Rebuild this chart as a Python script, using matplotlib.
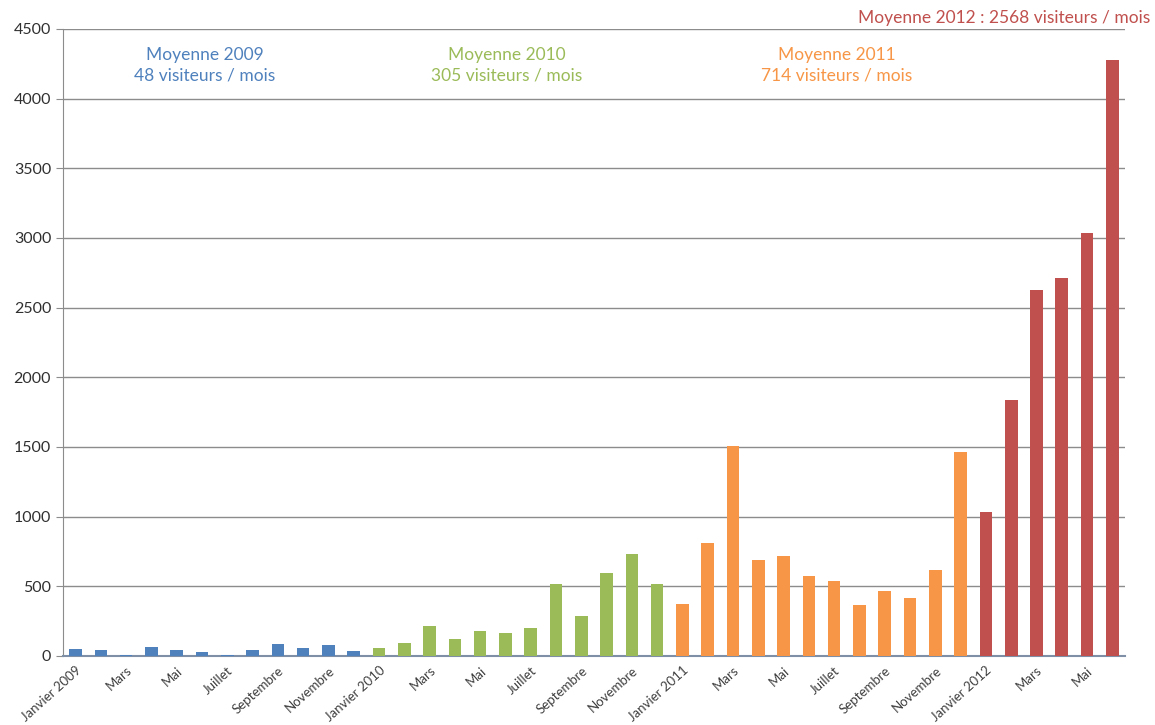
import matplotlib
matplotlib.use("Agg")
import matplotlib.pyplot as plt
import numpy as np

mois = ["Janvier", "Février", "Mars", "Avril", "Mai", "Juin", "Juillet",
        "Août", "Septembre", "Octobre", "Novembre", "Décembre"]
annees = [2009, 2010, 2011, 2012]

visites_2009 = [50, 40, 10, 68, 40, 25, 10, 45, 88, 60, 82, 35]
visites_2010 = [55, 90, 215, 120, 180, 165, 200, 520, 290, 595, 735, 520]
visites_2011 = [375, 810, 1510, 690, 715, 575, 540, 367, 467, 417, 617, 1467]
visites_2012 = [1035, 1835, 2625, 2715, 3035, 4275]

moyennes = {2009: 48, 2010: 305, 2011: 714, 2012: 2568}
couleurs = {2009: "#4F81BD", 2010: "#9BBB59", 2011: "#F79646", 2012: "#C0504D"}
series = {2009: visites_2009, 2010: visites_2010, 2011: visites_2011, 2012: visites_2012}

labels = []
values = []
colors = []
for a in annees:
    for i, v in enumerate(series[a]):
        labels.append(f"{mois[i]} {a}" if i == 0 else mois[i])
        values.append(v)
        colors.append(couleurs[a])

plt.rcParams['font.family'] = ['Lato', 'DejaVu Sans']
fig = plt.figure(figsize=(11.55, 7.25), dpi=100)
ax = fig.add_axes([0.0545, 0.0952, 0.9195, 0.8648])

x = np.arange(len(values))
ax.bar(x, values, width=0.5, color=colors, zorder=3, edgecolor='none')

ax.set_xlim(-0.5, len(values) - 0.5)
ax.set_ylim(0, 4500)
ax.set_yticks(np.arange(0, 4501, 500))
ax.yaxis.grid(True, color='#8c8c8c', linewidth=1.0, zorder=0)
ax.set_axisbelow(True)
for s in ['top', 'right']:
    ax.spines[s].set_visible(False)
ax.spines['left'].set_color('#8c8c8c')
ax.spines['bottom'].set_color('#7f8fa6')
ax.spines['bottom'].set_linewidth(1.5)

ax.set_xticks(x)
ax.set_xticklabels([l if i % 2 == 0 else '' for i, l in enumerate(labels)],
                   rotation=42, ha='right', rotation_mode='anchor',
                   fontsize=9.5, color='#404040')
ax.tick_params(axis='y', labelsize=11.5, colors='#8c8c8c', labelcolor='#303030', length=5)
ax.tick_params(axis='x', length=0, pad=6)

fs = 12.5
ax.text(5.1, 4240, f"Moyenne 2009\n{moyennes[2009]} visiteurs / mois", ha='center', va='center',
        color=couleurs[2009], fontsize=fs, linespacing=1.3)
ax.text(17.06, 4240, f"Moyenne 2010\n{moyennes[2010]} visiteurs / mois", ha='center', va='center',
        color=couleurs[2010], fontsize=fs, linespacing=1.3)
ax.text(30.1, 4240, f"Moyenne 2011\n{moyennes[2011]} visiteurs / mois", ha='center', va='center',
        color=couleurs[2011], fontsize=fs, linespacing=1.3)
ax.text(42.5, 4580, f"Moyenne 2012 : {moyennes[2012]} visiteurs / mois", ha='right', va='center',
        color=couleurs[2012], fontsize=fs, clip_on=False)

fig.savefig("out.png", dpi=100)
